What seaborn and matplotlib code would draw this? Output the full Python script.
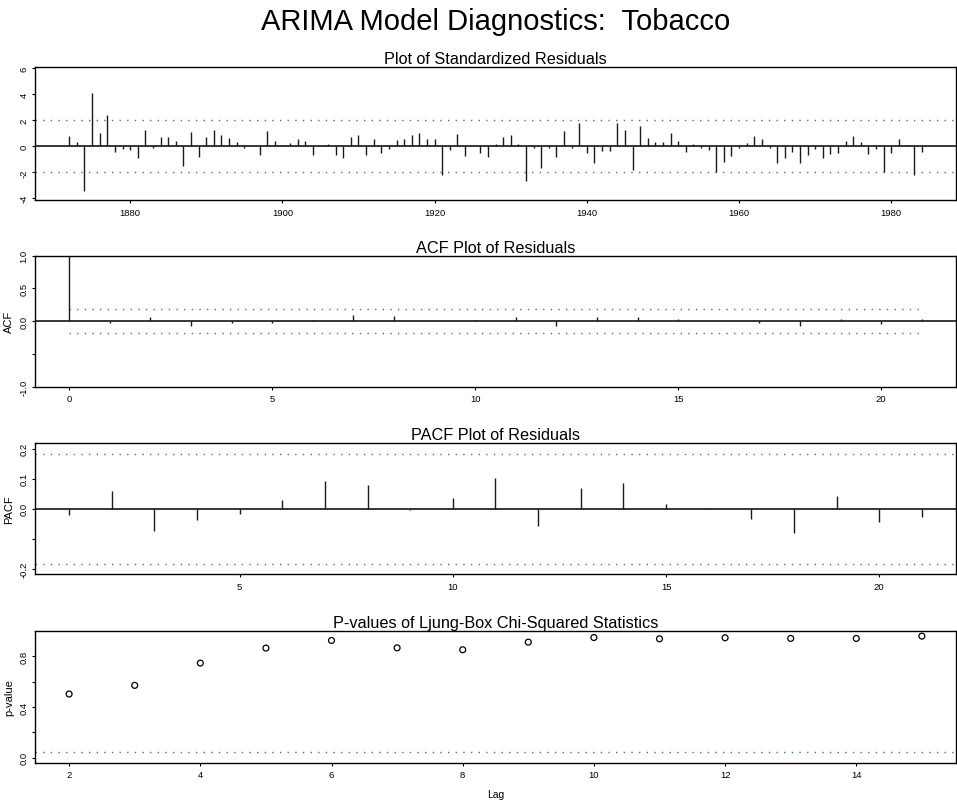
import matplotlib
matplotlib.use("Agg")
import matplotlib.pyplot as plt
import numpy as np
import pandas as pd
import seaborn as sns

# ---- data -------------------------------------------------------------
first_year = 1872
std_resid = [
    0.77, 0.30, -3.40, 4.10, 1.00, 2.40, -0.40, -0.20, -0.30, -0.87,
    1.25, -0.10, 0.72, 0.74, 0.41, -1.49, 1.08, -0.85, 0.72, 1.28,
    0.87, 0.62, 0.33, -0.10, 0.05, -0.64, 1.15, 0.41, 0.10, 0.23,
    0.56, 0.41, -0.67, 0.05, 0.18, -0.65, -0.90, 0.75, 0.90, -0.65,
    0.55, -0.50, -0.20, 0.50, 0.55, 0.85, 1.05, 0.60, 0.60, -2.20,
    -0.30, 0.95, -0.75, 0.05, -0.50, -0.85, 0.15, 0.72, 0.85, 0.20,
    -2.70, -0.10, -1.65, -0.10, -0.85, 1.20, -0.10, 1.80, -0.50, -1.30,
    -0.35, -0.35, 1.80, 1.25, -1.85, 1.60, 0.65, 0.30, 0.33, 1.00,
    0.41, -0.41, 0.18, -0.13, -0.26, -1.95, -1.18, -0.72, -0.10, 0.23,
    0.80, 0.56, -0.10, -1.30, -0.87, -0.46, -1.26, -0.64, -0.20, -0.92,
    -0.56, -0.54, 0.41, 0.77, 0.33, -0.62, -0.18, -1.97, -0.49, 0.56,
    0.10, -2.18, -0.41,
]
years = list(range(first_year, first_year + len(std_resid)))

acf_lags = list(range(0, 22))
acf_vals = [1.0, -0.02, 0.06, -0.08, -0.03, -0.02, 0.025, 0.09, 0.085, 0.01,
            0.025, 0.07, -0.075, 0.065, 0.07, 0.035, 0.01, -0.025, -0.075,
            0.035, -0.045, 0.035]

pacf_lags = list(range(1, 22))
pacf_vals = [-0.02, 0.059, -0.073, -0.037, -0.018, 0.03, 0.093, 0.079, -0.004,
             0.035, 0.102, -0.057, 0.068, 0.086, 0.016, 0.002, -0.035, -0.082,
             0.042, -0.045, -0.027]

lb_lags = list(range(2, 16))
lb_pvals = [0.502, 0.570, 0.745, 0.863, 0.923, 0.865, 0.850, 0.910, 0.946,
            0.936, 0.944, 0.939, 0.939, 0.957]

conf_level = 0.184
p_threshold = 0.05

resid_df = pd.DataFrame({"year": years, "resid": std_resid})
acf_df = pd.DataFrame({"lag": acf_lags, "acf": acf_vals})
pacf_df = pd.DataFrame({"lag": pacf_lags, "pacf": pacf_vals})
lb_df = pd.DataFrame({"lag": lb_lags, "pvalue": lb_pvals})

# ---- style ------------------------------------------------------------
sns.set_theme(style="ticks")
plt.rcParams["font.family"] = ["Liberation Sans", "DejaVu Sans"]

W, H = 957, 803
fig = plt.figure(figsize=(W / 100, H / 100), dpi=100)
fig.patch.set_facecolor("white")

BLUE = "#3a70b2"
DOT = (0, (1, 4.5))
TICK_FS = 6.8


def add_panel(top_px, bottom_px):
    left_px, right_px = 35, 956
    return fig.add_axes([left_px / W, 1 - bottom_px / H,
                         (right_px - left_px) / W, (bottom_px - top_px) / H])


def style(ax, title, ylabel=None):
    ax.set_facecolor("white")
    for s in ax.spines.values():
        s.set_visible(True)
        s.set_color("black")
        s.set_linewidth(1.0)
    ax.tick_params(axis="both", direction="out", length=2.4, width=0.8,
                   colors="black", labelsize=TICK_FS)
    ax.tick_params(axis="x", pad=3)
    ax.tick_params(axis="y", pad=2.3, labelrotation=90)
    for lbl in ax.get_yticklabels():
        lbl.set_verticalalignment("center")
    ax.set_title(title, fontsize=11.7, pad=3, color="black")
    ax.set_xlabel("")
    if ylabel:
        ax.set_ylabel(ylabel, fontsize=8, color="black")
        ax.yaxis.set_label_coords(-0.023, 0.5)
    else:
        ax.set_ylabel("")
    ax.grid(False)


# ---- panel 1: standardized residuals ---------------------------------
ax1 = add_panel(68.3, 201.0)
ax1.axhline(0, color="black", lw=1.1, zorder=2)
ax1.vlines(resid_df["year"], 0, resid_df["resid"], color="#1a1a1a", lw=1.0, zorder=3)
for lvl in (-2, 2):
    ax1.axhline(lvl, color=BLUE, lw=1.0, ls=DOT, zorder=1)
ax1.set_xlim(1867.5, 1988.5)
ax1.set_ylim(-4.13, 6.08)
ax1.set_xticks([1880, 1900, 1920, 1940, 1960, 1980])
ax1.set_yticks([-4, -2, 0, 2, 4, 6])
ax1.set_yticklabels(["-4", "-2", "0", "2", "4", "6"])
style(ax1, "Plot of Standardized Residuals")

# ---- panel 2: ACF ------------------------------------------------------
ax2 = add_panel(256.7, 387.7)
ax2.axhline(0, color="black", lw=1.1, zorder=2)
ax2.vlines(acf_df["lag"], 0, acf_df["acf"], color="#1a1a1a", lw=1.0, zorder=3)
ax2.hlines([conf_level, -conf_level], acf_lags[0], acf_lags[-1],
           color=BLUE, lw=1.0, ls=DOT, zorder=1)
ax2.set_xlim(-0.84, 21.84)
ax2.set_ylim(-1.0, 1.0)
ax2.set_xticks([0, 5, 10, 15, 20])
ax2.set_yticks([-1.0, -0.5, 0.0, 0.5, 1.0])
ax2.set_yticklabels(["-1.0", "", "0.0", "0.5", "1.0"])
style(ax2, "ACF Plot of Residuals", "ACF")

# ---- panel 3: PACF -----------------------------------------------------
ax3 = add_panel(444.3, 575.3)
ax3.axhline(0, color="black", lw=1.1, zorder=2)
ax3.vlines(pacf_df["lag"], 0, pacf_df["pacf"], color="#1a1a1a", lw=1.0, zorder=3)
for lvl in (-conf_level, conf_level):
    ax3.axhline(lvl, color=BLUE, lw=1.0, ls=DOT, zorder=1)
ax3.set_xlim(0.2, 21.8)
ax3.set_ylim(-0.218, 0.218)
ax3.set_xticks([5, 10, 15, 20])
ax3.set_yticks([-0.2, -0.1, 0.0, 0.1, 0.2])
ax3.set_yticklabels(["-0.2", "", "0.0", "0.1", "0.2"])
style(ax3, "PACF Plot of Residuals", "PACF")

# ---- panel 4: Ljung-Box p-values ---------------------------------------
ax4 = add_panel(632.3, 763.7)
sns.scatterplot(data=lb_df, x="lag", y="pvalue", ax=ax4, marker="o", s=18,
                facecolor="none", edgecolor="black", linewidth=0.9,
                legend=False, zorder=3)
ax4.collections[-1].set_facecolor("none")
ax4.axhline(p_threshold, color=BLUE, lw=1.0, ls=DOT, zorder=1)
ax4.set_xlim(1.48, 15.52)
ax4.set_ylim(-0.038, 0.995)
ax4.set_xticks([2, 4, 6, 8, 10, 12, 14])
ax4.set_yticks([0.0, 0.2, 0.4, 0.6, 0.8])
ax4.set_yticklabels(["0.0", "", "0.4", "", "0.8"])
style(ax4, "P-values of Ljung-Box Chi-Squared Statistics", "p-value")
ax4.set_xlabel("Lag", fontsize=7.5, color="black")
ax4.xaxis.set_label_coords(0.5, -0.2)

fig.text(495.5 / W, 1 - 22 / H, "ARIMA Model Diagnostics:  Tobacco",
         ha="center", va="center", fontsize=21, color="black")

fig.savefig("out.png", dpi=100, facecolor="white")
